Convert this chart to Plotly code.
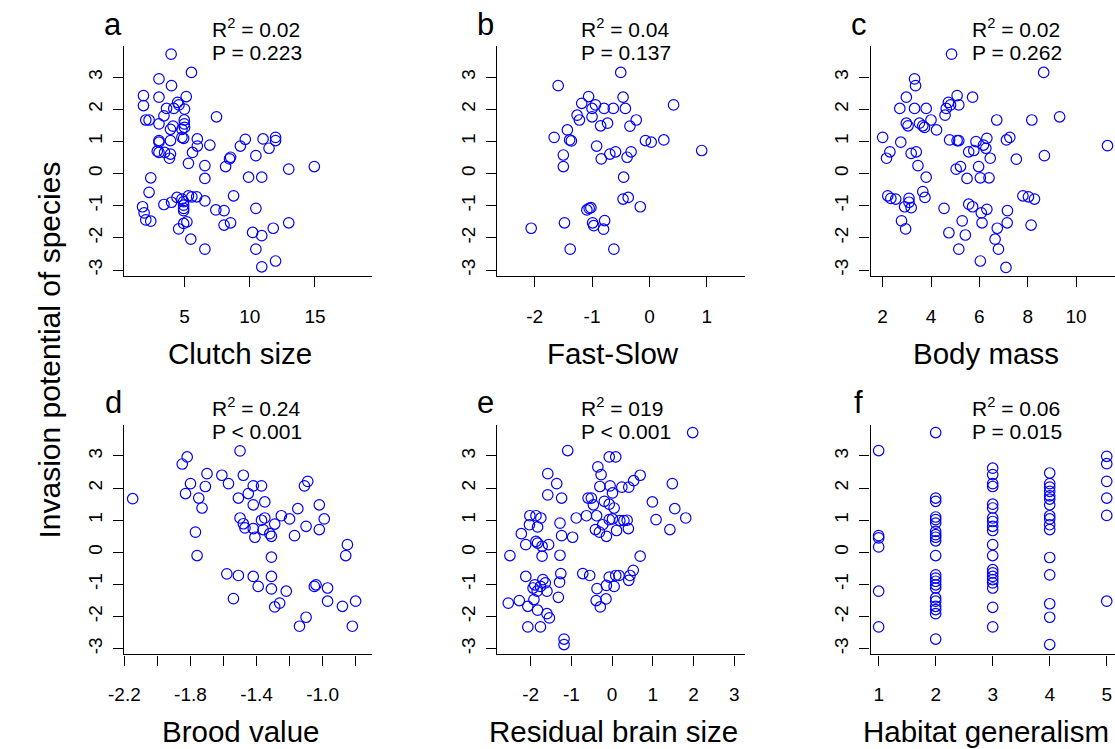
import plotly.graph_objects as go

# ---------------------------------------------------------------- data
# (a) clutch size vs invasion potential
clutch_size = [3.97, 5.53, 3.04, 4.00, 1.85, 3.04, 5.13, 1.85, 3.62, 4.47, 4.57, 4.17, 5.00,
               2.03, 2.28, 3.04, 3.42, 4.12, 3.92, 4.98, 4.98, 5.00, 4.80, 7.45, 3.04, 3.04,
               3.92, 4.80, 4.93, 5.98, 5.98, 6.94, 2.91, 3.04, 3.47, 3.92, 3.84, 5.61, 5.30,
               6.56, 6.56, 2.41, 2.28, 1.78, 1.90, 2.03, 2.41, 3.42, 4.00, 4.42, 4.80, 5.30,
               4.93, 5.56, 5.93, 4.93, 4.93, 4.93, 6.56, 5.18, 4.93, 4.55, 5.48, 6.56, 7.40,
               8.03, 8.03, 8.53, 8.76, 8.15, 8.45, 8.53, 9.28, 9.66, 9.91, 10.92, 10.47, 11.02,
               11.48, 11.98, 11.98, 12.99, 14.95, 10.47, 10.22, 10.92, 10.47, 10.92, 11.80,
               11.98, 12.99]
invasion_a = [3.72, 3.15, 2.95, 2.74, 2.43, 2.38, 2.40, 2.12, 2.03, 2.22, 2.14, 2.03, 2.01,
              1.67, 1.67, 1.55, 1.80, 1.48, 1.38, 1.67, 1.55, 1.44, 1.38, 1.77, 1.03, 0.98,
              1.03, 1.13, 1.10, 1.08, 0.86, 0.89, 0.70, 0.66, 0.66, 0.61, 0.48, 0.66, 0.32,
              0.25, -0.15, -0.13, -0.58, -1.03, -1.22, -1.44, -1.48, -0.96, -0.89, -0.74, -0.79,
              -0.69, -0.87, -0.72, -0.72, -0.98, -1.08, -1.15, -0.85, -1.50, -1.55, -1.72,
              -2.04, -2.35, -1.13, -1.15, -1.60, -1.53, -0.69, 0.22, 0.46, 0.51, 0.86, 1.07,
              -0.11, -0.11, 0.56, 1.08, 0.79, 1.13, 1.03, 0.14, 0.22, -1.08, -1.83, -1.93,
              -2.35, -2.90, -1.70, -2.72, -1.53]

# (b) fast-slow continuum vs invasion potential
fast_slow = [-2.06, -1.59, -1.66, -1.50, -1.50, -1.43, -1.39, -1.36, -1.48, -1.38, -1.26, -1.22,
             -1.18, -1.06, -1.00, -0.94, -1.00, -0.92, -1.09, -1.05, -1.02, -0.99, -0.97, -0.78,
             -0.80, -0.85, -0.79, -0.63, -0.73, -0.84, -0.69, -0.59, -0.62, -0.50, -0.46, -0.42,
             -0.34, -0.23, -0.39, -0.32, -0.45, -0.46, -0.37, -0.16, -0.07, 0.03, 0.25, 0.42, 0.91]
invasion_b = [-1.70, 2.74, 1.13, 0.58, 0.22, 1.36, 1.05, 1.02, -1.53, -2.35, 1.82, 1.67,
              2.19, 2.40, 2.03, 2.14, 1.77, 0.86, -1.13, -1.08, -1.06, -1.53, -1.62, -1.46,
              -1.73, 1.49, 2.03, 2.03, 1.57, 0.46, 0.61, 0.68, -2.35, 3.15, 2.38, 2.03,
              1.48, 1.67, 0.51, 0.68, -0.11, -0.79, -0.74, -1.03, 1.03, 0.98, 1.05, 2.14, 0.72]

# (c) body mass vs invasion potential
body_mass = [2.00, 2.16, 2.30, 2.21, 2.34, 2.54, 2.71, 2.75, 2.98, 2.98, 3.05, 3.32, 3.36, 3.32,
             3.18, 3.39, 3.46, 3.52, 3.66, 3.73, 3.80, 4.00, 4.23, 3.80, 3.66, 3.75, 3.09, 3.09,
             2.91, 3.18, 2.78, 2.95, 4.54, 4.58, 4.63, 4.72, 4.81, 5.08, 5.15, 4.77, 5.08, 5.15,
             4.85, 4.74, 5.15, 5.42, 5.29, 5.04, 5.22, 5.49, 5.56, 5.77, 5.72, 5.86, 5.97, 5.56,
             5.72, 6.04, 6.40, 6.08, 6.11, 6.04, 6.17, 6.27, 6.31, 6.45, 6.31, 6.72, 6.74, 6.65,
             6.79, 7.12, 7.26, 7.16, 7.15, 7.10, 7.53, 7.80, 8.03, 8.28, 8.17, 8.14, 8.66, 8.69,
             9.32, 11.30]
invasion_c = [1.13, 0.48, 0.68, -0.69, -0.77, -0.79, 2.03, 0.98, 2.38, 1.57, 1.49, 2.95, 2.74,
              2.03, 0.63, 0.68, 0.25, 1.57, 1.49, 1.44, 2.03, 1.67, 1.36, -0.11, -0.56, -0.74,
              -0.77, -0.89, -1.03, -1.06, -1.47, -1.72, -1.08, 1.82, 2.03, 2.22, 2.14, 2.43,
              2.14, 1.05, 1.03, 1.03, 3.72, -1.84, -2.35, -1.91, -1.47, 0.14, 0.22, -0.15,
              0.68, 0.72, 2.38, 1.00, 0.22, -0.95, -1.03, -0.13, -0.13, -1.22, -1.53, -2.72,
              0.89, 0.79, 1.10, 0.48, -1.11, 1.67, -1.70, -2.04, -2.35, 1.05, 1.13, -1.15,
              -1.53, -2.92, 0.45, -0.69, -0.72, -0.79, 1.67, -1.60, 3.15, 0.56, 1.77, 0.87]

# (d) brood value vs invasion potential
brood_value = [-2.15, -1.85, -1.82, -1.80, -1.83, -1.75, -1.73, -1.71, -1.70, -1.77, -1.76,
               -1.61, -1.57, -1.50, -1.48, -1.51, -1.45, -1.42, -1.37, -1.42, -1.35, -1.50,
               -1.48, -1.47, -1.42, -1.41, -1.37, -1.35, -1.36, -1.32, -1.31, -1.29, -1.25,
               -1.20, -1.17, -1.15, -1.11, -1.09, -1.10, -1.02, -0.99, -1.02, -0.85, -0.86,
               -1.31, -1.58, -1.51, -1.42, -1.39, -1.31, -1.31, -1.54, -1.29, -1.26, -1.22,
               -1.14, -1.10, -1.05, -1.04, -0.97, -0.97, -0.88, -0.80, -0.82]
invasion_d = [1.67, 2.75, 2.97, 2.14, 1.83, 1.69, 1.38, 2.05, 2.45, 0.63, -0.10, 2.40, 2.14,
              3.16, 2.40, 1.69, 1.83, 2.07, 2.07, 1.48, 1.57, 1.07, 0.89, 0.76, 0.74, 0.47,
              1.00, 1.07, 0.71, 0.58, 0.50, 0.88, 1.14, 1.04, 0.52, 1.36, 2.07, 2.21, 0.81,
              1.48, 1.04, 0.71, 0.24, -0.10, -0.15, -0.67, -0.72, -0.75, -1.06, -0.75, -1.14,
              -1.44, -1.70, -1.58, -1.21, -2.30, -2.02, -1.06, -1.01, -1.11, -1.52, -1.68,
              -1.52, -2.30]

# (e) residual brain size vs invasion potential
brain_size = [-2.51, -2.55, -2.28, -2.23, -2.12, -2.12, -2.07, -2.07, -2.02, -2.03, -1.87,
              -1.75, -1.83, -1.87, -1.83, -1.72, -1.56, -1.72, -1.94, -1.90, -1.84, -1.76,
              -1.70, -1.64, -1.60, -1.92, -1.83, -1.60, -1.54, -1.76, -1.58, -1.58, -1.36,
              -1.24, -1.28, -1.24, -0.97, -1.28, -1.26, -1.29, -1.32, -1.18, -1.18, -1.09,
              -0.88, -0.63, -0.72, -0.55, -0.59, -0.51, -0.46, -0.38, -0.35, -0.27, -0.30,
              -0.41, -0.31, -0.37, -0.39, -0.29, -0.15, -0.19, -0.07, 0.01, 0.05, -0.07, 0.09,
              -0.05, -0.23, -0.14, -0.07, 0.01, 0.11, 0.19, 0.29, 0.37, 0.40, -0.14, -0.07,
              0.05, 0.09, 0.17, 0.24, 0.41, 0.53, 0.69, 0.44, 0.41, 0.52, 0.69, 0.99, 1.08,
              1.42, 1.48, 1.54, 1.81, 1.98]
invasion_e = [-0.10, -1.58, -1.50, 0.58, 0.24, -0.75, -1.68, -2.32, 1.14, 0.86, 1.14, 1.07,
              0.79, 0.34, 0.29, 0.19, 0.24, -0.12, -1.11, -1.01, -1.21, -1.06, -0.85, -0.95,
              -1.21, -1.47, -1.80, -1.91, -2.04, -2.32, 2.45, 1.79, 2.14, 1.69, 0.91, 0.52,
              0.47, -0.09, -0.66, -0.93, -1.40, -2.70, -2.87, 3.17, 1.07, 1.14, -0.66, -0.72,
              1.69, 1.69, 1.48, 1.14, 2.66, 2.42, 2.05, 0.71, 0.63, -1.13, -1.50, -1.70,
              -1.45, 1.59, 1.50, 1.85, 1.38, 2.97, 2.97, 2.07, 0.86, 0.50, 1.02, 1.04, 0.68,
              0.99, 0.99, 1.00, 0.74, -1.03, -0.77, -1.06, -0.72, -0.72, 2.03, 2.03, 2.23,
              2.40, -0.72, -0.87, -0.56, -0.12, 1.57, 1.02, 0.71, 2.14, 1.36, 1.07, 3.73]

# (f) habitat generalism (number of habitats) vs invasion potential
habitat_levels = [1, 2, 3, 4, 5]
invasion_f_by_level = [
    [3.17, 0.52, 0.45, 0.17, -1.21, -2.32],
    [3.73, 1.69, 1.59, 1.10, 1.02, 0.91, 0.65, 0.55, 0.47, 0.36, -0.10, -0.70, -0.80,
     -0.90, -1.01, -1.11, -1.42, -1.52, -1.68, -1.78, -1.91, -2.70],
    [2.62, 2.42, 2.14, 2.05, 1.50, 1.38, 1.07, 0.96, 0.81, 0.68, 0.24, -0.10, -0.54,
     -0.64, -0.75, -0.85, -0.95, -1.11, -1.71, -2.32],
    [2.47, 2.14, 2.03, 1.90, 1.76, 1.66, 1.48, 1.14, 1.04, 0.86, 0.71, -0.16, -0.70,
     -1.60, -2.02, -2.87],
    [2.99, 2.76, 2.21, 1.69, 1.15, -1.52],
]
habitat = [lvl for lvl, ys in zip(habitat_levels, invasion_f_by_level) for _ in ys]
invasion_f = [v for ys in invasion_f_by_level for v in ys]

panel_letters = ["a", "b", "c", "d", "e", "f"]
x_titles = ["Clutch size", "Fast-Slow", "Body mass",
            "Brood value", "Residual brain size", "Habitat generalism"]
r2_labels = ["0.02", "0.04", "0.02", "0.24", "019", "0.06"]
p_labels = ["= 0.223", "= 0.137", "= 0.262", "< 0.001", "< 0.001", "= 0.015"]
y_title = "Invasion potential of species"
y_ticks = [-3, -2, -1, 0, 1, 2, 3]

x_tickvals = [
    [5, 10, 15],
    [-2, -1, 0, 1],
    [2, 4, 6, 8, 10],
    [-2.2, -2.0, -1.8, -1.6, -1.4, -1.2, -1.0, -0.8],
    [-2, -1, 0, 1, 2, 3],
    [1, 2, 3, 4, 5],
]
x_ticktext = [
    ["5", "10", "15"],
    ["-2", "-1", "0", "1"],
    ["2", "4", "6", "8", "10"],
    ["-2.2", "", "-1.8", "", "-1.4", "", "-1.0", ""],
    ["-2", "-1", "0", "1", "2", "3"],
    ["1", "2", "3", "4", "5"],
]

# ---------------------------------------------------------------- layout
W, H = 1115, 749
FONT = "Liberation Sans, Arial, Helvetica, sans-serif"
BLUE = "#0000FF"

# pixel frame of each plot region (left, right, top, bottom)
col_left = [110.0, 488.3, 867.0]
col_right = [361.0, 739.4, 1115.0]
row_top = [46.0, 424.7]
row_bottom = [275.7, 654.4]
x_ranges = [[0.39, 19.36], [-2.65, 1.66], [1.5, 11.61],
            [-2.2, -0.702], [-2.82, 3.26], [0.858, 5.145]]
y_range = [-3.177, 3.974]


def fx(px):
    return px / W


def fy(py):
    return 1 - py / H


xs = [clutch_size, fast_slow, body_mass, brood_value, brain_size, habitat]
ys = [invasion_a, invasion_b, invasion_c, invasion_d, invasion_e, invasion_f]

fig = go.Figure()
layout = dict(
    width=W, height=H, margin=dict(l=0, r=0, t=0, b=0),
    paper_bgcolor="white", plot_bgcolor="white", showlegend=False,
    font=dict(family=FONT, color="black"),
)
annotations = []

letter_x = [98.5, 476.5, 855.0]
stat_x = [196.5, 570.7, 968.3]
title_x = [227.5, 605.8, 984.0]

for i in range(6):
    r, c = divmod(i, 3)
    n = "" if i == 0 else str(i + 1)
    fig.add_trace(go.Scatter(
        x=xs[i], y=ys[i], mode="markers", xaxis="x" + n, yaxis="y" + n,
        marker=dict(symbol="circle-open", size=10.5, color=BLUE, line=dict(width=1.2)),
        hoverinfo="x+y",
    ))
    axis_common = dict(
        showline=True, linecolor="black", linewidth=1.2, mirror=False,
        showgrid=False, zeroline=False, ticks="outside", ticklen=10, tickwidth=1.2,
        tickcolor="black", tickfont=dict(family=FONT, size=19, color="black"),
    )
    layout["xaxis" + n] = dict(
        axis_common, domain=[fx(col_left[c]), fx(col_right[c])], range=x_ranges[i],
        anchor="y" + n, tickmode="array", tickvals=x_tickvals[i], ticktext=x_ticktext[i],
        ticklabelstandoff=13,
    )
    layout["yaxis" + n] = dict(
        axis_common, domain=[fy(row_bottom[r]), fy(row_top[r])], range=y_range,
        anchor="x" + n, tickmode="array", tickvals=y_ticks,
        ticktext=[str(v) for v in y_ticks], tickangle=-90, ticklabelstandoff=4,
    )

    dy = row_top[r] - row_top[0]
    annotations.append(dict(
        text=panel_letters[i], x=fx(letter_x[c]), y=fy(24 + dy), xref="paper", yref="paper",
        xanchor="center", yanchor="middle", showarrow=False,
        font=dict(family=FONT, size=31, color="black"),
    ))
    annotations.append(dict(
        text="R<sup>2</sup> = " + r2_labels[i], x=fx(stat_x[c]), y=fy(28 + dy),
        xref="paper", yref="paper", xanchor="left", yanchor="middle", showarrow=False,
        font=dict(family=FONT, size=21, color="black"),
    ))
    annotations.append(dict(
        text="P " + p_labels[i], x=fx(stat_x[c]), y=fy(53 + dy),
        xref="paper", yref="paper", xanchor="left", yanchor="middle", showarrow=False,
        font=dict(family=FONT, size=21, color="black"),
    ))
    annotations.append(dict(
        text=x_titles[i], x=fx(title_x[c]), y=fy(353 + dy), xref="paper", yref="paper",
        xanchor="center", yanchor="middle", showarrow=False,
        font=dict(family=FONT, size=29.5, color="black"),
    ))

annotations.append(dict(
    text=y_title, x=fx(33), y=fy(350), xref="paper", yref="paper", textangle=-90,
    xanchor="center", yanchor="middle", showarrow=False,
    font=dict(family=FONT, size=30, color="black"),
))
layout["annotations"] = annotations
fig.update_layout(**layout)
fig.write_html("out.html")
